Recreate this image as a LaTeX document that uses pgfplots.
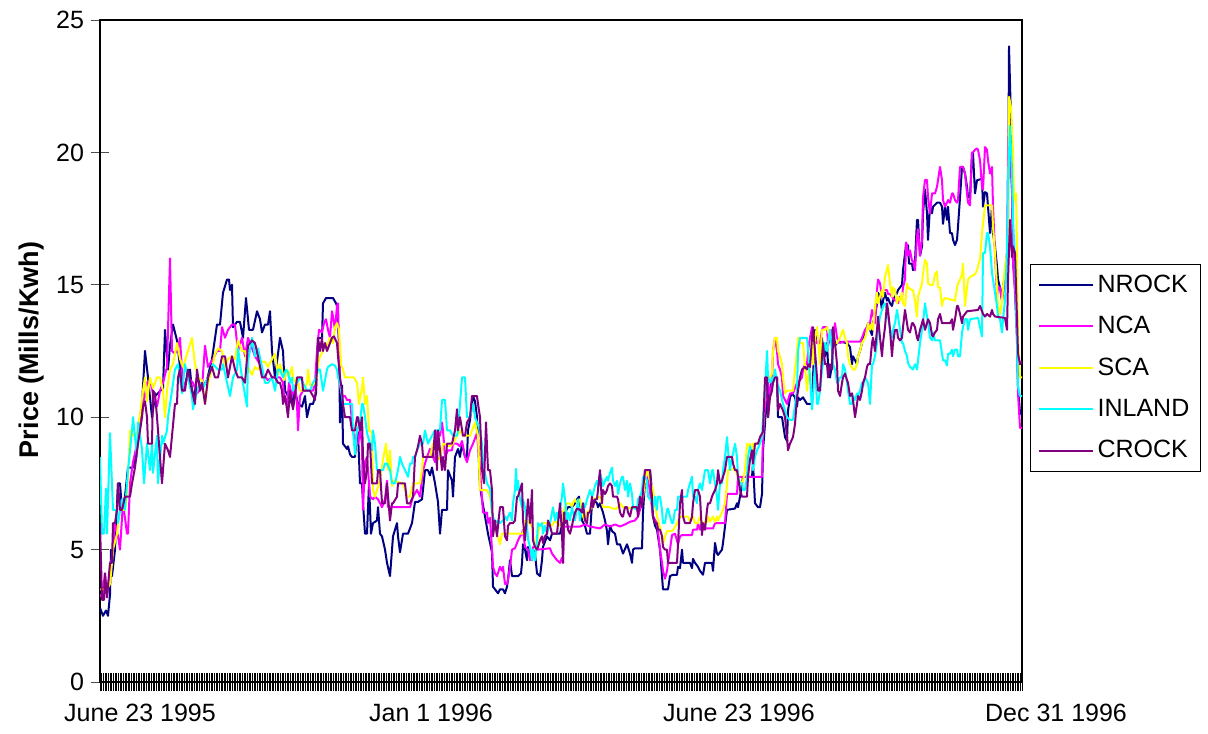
\documentclass[border=0pt]{standalone}
\usepackage{fontspec}
\setmainfont{Liberation Sans}
\usepackage{pgfplots}
\pgfplotsset{compat=1.18}

\definecolor{cNROCK}{RGB}{0,0,128}
\definecolor{cNCA}{RGB}{255,0,255}
\definecolor{cSCA}{RGB}{255,255,0}
\definecolor{cINLAND}{RGB}{0,255,255}
\definecolor{cCROCK}{RGB}{128,0,128}

\newcommand\chartfont{\fontsize{12.5}{15}\selectfont}

\begin{document}
\begin{tikzpicture}
\path[use as bounding box] (0,0) rectangle (604pt,366.5pt);
\begin{axis}[
  at={(50pt,25.5pt)}, anchor=south west,
  scale only axis, width=461pt, height=331pt,
  xmin=100, xmax=1022, ymin=0, ymax=25,
  axis line style={line width=0.6pt},
  tick pos=left, tick align=center, major tick length=9pt,
  xtick={100,101.655,...,1022}, xticklabels={},
  xtick style={line width=0.3pt, black},
  ytick={0,5,...,25},
  ytick style={line width=0.4pt, black!70},
  /pgf/number format/assume math mode=true,
  ticklabel style={font=\chartfont},
  every axis plot/.append style={line width=1pt, line join=round, mark=none},
  legend style={at={(rel axis cs:1.0087,0.632)}, anchor=north west,
    draw=black, line width=0.6pt, font=\chartfont, row sep=6.5pt,
    inner xsep=3.5pt, inner ysep=3.25pt},
  legend cell align=left,
  legend image code/.code={\draw[#1, line width=1pt] (0pt,0pt) -- (27pt,0pt);},
]
% NROCK
\addplot[color=cNROCK] coordinates {
(100,2.8) (103,2.5) (106,2.7) (108,2.5) (110,3.3) (111,5.0) (112,4.0) (115,5.0) (118,7.5) (120,7.5)
(122,6.5) (125,7.0) (128,8.1) (133,8.1) (137,8.8) (142,10.5) (145,12.5) (148,11.5) (152,10.0) (155,10.8)
(158,10.9) (163,11.1) (165,13.3) (168,11.8) (170,12.7) (173,13.5) (177,12.9) (180,11.9) (183,11.0) (187,11.5)
(190,11.8) (193,10.6) (197,11.5) (202,11.1) (207,11.4) (212,12.2) (217,13.5) (220,13.5) (223,14.7) (227,15.2)
(229,15.2) (230,14.8) (232,15.0) (233,13.4) (237,13.6) (240,13.6) (243,13.0) (246,14.5) (249,13.3) (253,13.3)
(257,14.0) (260,13.7) (262,13.2) (265,13.5) (268,13.5) (270,14.0) (272,12.5) (275,11.5) (280,13.0) (283,12.5)
(285,11.0) (288,10.8) (292,10.5) (295,11.0) (298,10.5) (302,10.4) (305,10.8) (307,10.0) (310,10.5) (313,10.5)
(316,10.9) (318,13.0) (322,13.0) (323,14.3) (326,14.5) (333,14.5) (336,14.3) (337,14.2) (339,12.8) (340,9.8)
(342,11.2) (343,9.0) (347,8.8) (348,8.9) (350,8.6) (352,8.5) (355,8.5) (357,9.5) (358,9.4) (360,7.5)
(362,7.5) (363,6.75) (365,5.6) (367,5.6) (369,7.5) (371,5.6) (373,6.0) (377,6.1) (378,6.6) (380,5.6)
(382,5.5) (385,5.0) (387,4.5) (390,4.0) (393,5.5) (397,6.0) (398,5.5) (400,4.9) (403,5.6) (408,5.6)
(412,6.0) (415,6.8) (418,6.8) (422,6.9) (425,8.0) (428,8.0) (430,7.8) (432,8.1) (435,7.5) (438,6.8)
(440,5.6) (442,6.5) (447,6.5) (448,8.0) (452,7.6) (453,7.0) (455,8.5) (458,8.8) (460,8.5) (462,9.0)
(465,8.5) (467,8.5) (468,9.5) (470,9.9) (473,10.8) (475,10.6) (477,10.0) (480,7.4) (482,6.9) (485,6.25)
(488,5.6) (492,4.9) (493,3.6) (495,3.5) (498,3.35) (500,3.5) (503,3.5) (505,3.35) (507,3.6) (508,3.85)
(510,4.6) (512,4.0) (518,4.0) (521,4.1) (522,4.5) (523,5.2) (525,5.0) (527,4.6) (528,5.1) (530,4.85)
(532,4.6) (533,5.0) (535,4.85) (537,4.1) (540,4.0) (542,4.6) (543,5.1) (547,5.5) (550,5.35) (552,5.6)
(560,5.6) (563,6.1) (565,6.4) (568,6.6) (572,6.6) (575,6.75) (577,6.9) (579,7.0) (582,6.1) (585,5.9)
(587,5.6) (590,5.6) (592,6.75) (593,6.9) (597,6.75) (598,6.6) (600,6.75) (603,6.4) (605,6.1) (607,5.7)
(608,5.2) (610,5.9) (612,5.7) (615,5.6) (617,5.2) (620,5.2) (623,4.85) (627,5.2) (630,4.85) (632,4.5)
(633,5.0) (635,5.05) (642,5.05) (643,6.4) (645,7.6) (647,8.0) (650,8.0) (652,7.2) (653,6.25) (655,5.9)
(657,5.75) (658,5.5) (660,5.0) (662,4.0) (663,3.5) (668,3.5) (670,4.0) (673,4.05) (677,4.05) (678,4.35)
(680,4.3) (682,5.0) (683,4.5) (690,4.5) (692,4.3) (693,4.65) (695,4.5) (698,4.35) (700,4.2) (703,4.05)
(705,4.5) (712,4.5) (713,4.2) (715,5.25) (717,4.85) (718,4.8) (722,5.0) (723,5.25) (727,6.5) (735,6.55)
(737,6.75) (738,6.6) (740,7.0) (743,7.75) (752,7.75) (753,8.25) (755,6.75) (758,6.6) (760,6.6) (762,7.1)
(763,8.75) (765,9.75) (767,11.3) (768,10.0) (770,11.0) (772,11.5) (777,11.5) (778,10.0) (782,10.0) (783,9.75)
(785,9.25) (787,9.1) (788,10.25) (790,10.75) (792,10.9) (795,10.75) (797,10.4) (798,10.75) (800,10.65) (803,10.75)
(807,10.5) (810,10.5) (812,10.5) (813,11.5) (815,13.3) (817,12.8) (820,12.8) (822,13.0) (823,12.5) (825,12.3)
(827,12.8) (828,12.0) (830,11.5) (832,12.0) (833,12.8) (835,12.7) (837,12.8) (840,12.85) (847,12.8) (850,12.65)
(852,12.0) (853,12.3) (857,12.0) (858,12.3) (860,12.5) (862,12.8) (863,13.0) (867,13.4) (868,13.55) (870,13.3)
(872,13.1) (873,13.55) (875,13.8) (877,14.3) (878,14.7) (880,14.55) (882,14.05) (883,14.4) (885,14.7) (887,14.4)
(888,14.5) (890,14.3) (892,14.2) (893,14.4) (895,14.55) (897,14.7) (898,14.8) (900,14.9) (902,15.0) (903,15.55)
(906,16.5) (908,16.5) (909,15.8) (912,15.8) (913,15.55) (915,15.9) (917,17.45) (918,17.45) (920,16.1) (922,16.45)
(923,17.7) (925,18.6) (927,17.7) (928,16.7) (930,17.95) (932,17.7) (933,17.95) (937,18.1) (940,18.1) (942,17.95)
(943,17.3) (945,17.95) (947,17.45) (948,17.95) (950,16.95) (952,16.95) (953,16.7) (955,16.5) (957,16.7) (958,17.2)
(960,18.3) (962,19.45) (963,19.45) (965,19.2) (967,18.7) (968,18.3) (970,18.3) (972,19.95) (973,19.95) (975,18.45)
(977,18.95) (982,19.0) (983,17.95) (985,18.5) (987,18.45) (988,17.95) (990,16.95) (992,17.95) (993,16.95) (995,16.45)
(997,15.7) (998,15.2) (1000,14.9) (1002,14.4) (1003,14.9) (1005,15.4) (1007,16.2) (1008,17.45) (1009,24.0) (1011,21.2)
(1012,18.95) (1013,15.9) (1015,14.9) (1017,13.15) (1018,11.15) (1020,10.15) (1022,10.1)
};
\addlegendentry{NROCK}
% NCA
\addplot[color=cNCA] coordinates {
(100,3.3) (102,3.2) (105,4.1) (107,3.2) (110,4.2) (113,5.0) (115,6.0) (118,5.5) (120,5.0) (122,6.2)
(123,6.7) (125,6.2) (127,5.6) (128,5.6) (130,7.5) (133,8.3) (137,9.0) (140,9.6) (143,10.4) (147,11.3)
(150,11.4) (153,10.9) (157,10.4) (160,11.0) (163,11.3) (167,11.9) (168,13.3) (170,16.0) (172,12.5) (175,12.4)
(178,12.6) (180,13.0) (183,11.1) (188,11.5) (193,11.3) (197,10.9) (202,11.1) (205,12.7) (208,11.9) (213,12.2)
(217,12.5) (220,12.5) (222,13.4) (225,13.0) (228,13.3) (232,13.5) (235,13.5) (238,12.5) (242,13.0) (245,12.3)
(248,13.0) (252,12.6) (255,12.3) (260,12.0) (263,11.6) (268,11.4) (273,11.5) (277,11.5) (280,11.5) (283,11.3)
(284,10.8) (287,10.5) (289,11.3) (292,10.8) (295,11.2) (297,10.5) (298,9.5) (300,10.8) (303,11.0) (313,11.0)
(315,11.3) (317,12.5) (319,13.3) (322,13.2) (324,13.55) (326,13.7) (328,13.3) (330,13.0) (332,14.0) (333,13.8)
(335,13.3) (337,14.2) (338,14.3) (340,11.2) (342,10.8) (345,10.8) (347,10.65) (350,10.65) (352,9.8) (355,9.0)
(358,9.0) (360,9.5) (362,9.0) (363,6.5) (365,8.3) (367,8.5) (368,8.0) (370,7.0) (373,6.9) (375,7.0)
(378,6.9) (382,6.6) (385,6.9) (387,7.6) (388,6.6) (410,6.6) (413,7.0) (417,7.25) (420,7.0) (423,8.0)
(427,8.5) (430,8.8) (433,8.5) (435,8.3) (437,9.5) (440,9.3) (442,9.8) (443,9.5) (445,8.5) (448,8.75)
(452,8.75) (453,9.0) (457,9.0) (460,8.9) (462,9.1) (465,8.5) (467,8.3) (470,8.75) (473,9.0) (477,9.4)
(480,8.0) (483,6.4) (487,6.4) (488,6.0) (490,6.2) (492,5.0) (493,4.35) (495,4.1) (497,4.0) (500,4.35)
(502,4.2) (503,4.35) (505,3.7) (507,3.7) (508,3.85) (510,4.35) (512,5.0) (515,5.05) (517,5.25) (518,5.35)
(520,5.5) (522,5.6) (523,5.75) (525,5.1) (528,5.0) (530,4.6) (532,4.85) (533,5.1) (537,5.1) (538,5.0)
(550,5.05) (552,4.85) (553,4.8) (557,4.6) (560,4.5) (562,4.7) (563,4.5) (564,5.87) (580,5.87) (585,5.95)
(590,5.87) (600,5.8) (605,5.95) (610,5.87) (615,5.95) (620,5.87) (625,5.95) (630,6.05) (635,6.1) (638,6.25)
(642,6.75) (643,6.9) (645,8.0) (648,7.6) (650,7.2) (653,6.25) (657,6.0) (660,5.0) (662,4.5) (663,4.2)
(665,3.9) (667,4.2) (668,4.5) (670,5.0) (672,5.55) (675,5.6) (678,5.2) (680,5.5) (682,5.55) (692,5.55)
(693,5.75) (697,5.75) (698,6.0) (700,5.75) (702,6.0) (703,5.75) (705,5.8) (713,5.8) (715,6.0) (725,6.0)
(727,7.1) (737,7.1) (738,7.75) (762,7.75) (763,9.25) (765,10.4) (767,11.0) (768,11.3) (770,10.8) (772,11.3)
(773,12.5) (775,13.0) (777,12.5) (778,12.0) (780,11.8) (782,11.5) (783,10.8) (787,10.5) (790,10.9) (793,10.9)
(797,11.3) (800,11.4) (802,11.5) (803,11.8) (805,12.0) (807,12.0) (808,12.5) (810,13.0) (812,13.4) (813,12.8)
(815,13.0) (817,12.8) (820,12.8) (822,13.3) (823,13.4) (827,13.4) (828,12.7) (830,13.0) (832,13.3) (833,13.0)
(835,13.55) (837,13.0) (840,12.8) (843,12.85) (860,12.85) (862,13.0) (863,13.1) (865,13.3) (867,13.4) (870,13.55)
(872,14.05) (873,13.9) (875,13.55) (877,14.8) (878,15.2) (880,15.05) (882,14.55) (883,14.8) (887,14.8) (888,14.65)
(890,14.65) (892,14.55) (895,14.4) (897,14.4) (898,14.3) (900,14.55) (902,14.55) (903,14.9) (905,15.2) (906,16.6)
(907,16.5) (908,16.1) (910,16.3) (912,15.9) (913,15.9) (915,15.55) (917,16.8) (918,17.1) (920,16.1) (922,16.7)
(923,18.3) (925,18.96) (927,18.96) (928,18.3) (930,17.7) (932,18.45) (935,18.45) (937,18.7) (938,18.95) (940,19.45)
(942,18.95) (943,18.2) (945,17.95) (947,18.1) (948,18.2) (950,18.1) (952,18.45) (953,18.45) (955,18.2) (957,18.1)
(958,18.2) (960,19.45) (963,19.45) (965,19.2) (967,18.45) (968,18.1) (970,18.0) (972,20.0) (973,20.0) (975,20.1)
(977,20.15) (978,20.1) (980,19.7) (982,18.7) (983,18.6) (985,20.2) (987,20.1) (988,19.7) (990,19.2) (992,19.45)
(993,17.95) (995,16.2) (997,14.55) (998,14.9) (1000,14.9) (1002,14.4) (1003,14.7) (1005,14.9) (1007,16.2) (1008,19.95)
(1009,21.2) (1011,19.2) (1012,18.45) (1013,15.9) (1015,14.7) (1017,12.9) (1018,10.9) (1020,9.6) (1022,9.6)
};
\addlegendentry{NCA}
% SCA
\addplot[color=cSCA] coordinates {
(100,3.5) (103,3.5) (107,3.5) (110,3.7) (112,4.5) (113,5.0) (117,5.6) (120,6.5) (125,6.5) (127,7.0)
(128,7.7) (130,9.5) (133,9.3) (137,9.4) (140,10.1) (143,11.0) (145,11.5) (147,10.6) (150,11.5) (153,11.1)
(157,11.5) (160,11.5) (163,11.0) (165,10.0) (167,11.0) (170,11.8) (173,12.0) (177,12.8) (180,12.2) (183,11.9)
(188,12.5) (192,13.0) (195,12.0) (198,11.5) (202,11.4) (205,10.5) (208,11.3) (212,11.8) (215,12.4) (218,12.6)
(222,12.5) (225,11.9) (228,12.2) (232,12.3) (235,12.2) (238,12.9) (242,12.5) (245,12.5) (248,11.9) (252,11.6)
(255,11.9) (258,11.8) (262,12.1) (265,12.1) (268,11.9) (275,12.4) (278,11.6) (280,12.0) (282,11.8) (284,11.4)
(287,11.8) (289,11.5) (292,11.9) (293,11.5) (297,11.2) (298,11.3) (300,11.0) (303,11.0) (307,11.3) (308,11.8)
(310,11.2) (313,11.2) (317,11.5) (318,12.0) (320,12.3) (323,12.5) (325,12.8) (327,12.7) (330,13.0) (333,12.8)
(335,13.4) (337,13.55) (339,13.3) (341,12.0) (343,11.8) (345,11.5) (354,11.5) (357,11.3) (359,10.5) (362,11.1)
(363,11.5) (365,10.5) (367,10.8) (369,9.5) (372,9.4) (373,7.25) (375,7.0) (377,7.25) (380,7.6) (383,8.4)
(386,9.0) (388,8.0) (390,8.75) (392,7.4) (393,7.6) (403,7.5) (407,7.0) (410,7.0) (413,7.5) (420,7.5)
(422,8.0) (423,8.5) (430,8.5) (433,9.0) (437,8.5) (440,8.4) (443,9.0) (450,8.9) (453,9.0) (457,9.3)
(460,9.5) (463,9.3) (470,9.3) (472,9.5) (475,9.8) (478,9.3) (480,7.25) (487,7.25) (490,7.0) (493,6.1)
(497,5.6) (500,5.2) (502,5.6) (523,5.6) (525,6.1) (527,5.9) (528,6.1) (530,6.0) (532,5.9) (533,5.6)
(535,5.1) (537,5.0) (538,5.6) (540,5.9) (542,6.0) (550,6.0) (552,5.9) (555,6.1) (557,6.0) (560,5.9)
(562,6.1) (563,6.4) (565,6.6) (567,6.75) (570,6.75) (572,6.6) (573,6.75) (575,6.9) (577,6.75) (580,6.9)
(582,6.4) (583,6.25) (585,6.1) (587,6.4) (590,6.5) (592,6.6) (593,6.9) (597,6.95) (600,7.0) (603,6.6)
(610,6.6) (613,6.55) (617,6.55) (620,6.75) (623,6.6) (637,6.55) (640,6.75) (643,7.0) (645,7.6) (647,8.0)
(650,7.6) (653,7.25) (655,6.75) (657,6.25) (660,5.85) (662,5.5) (663,5.2) (665,5.5) (667,5.7) (672,5.7)
(675,5.85) (677,6.0) (680,6.25) (688,6.25) (690,6.05) (693,6.25) (695,6.0) (698,6.0) (700,6.25) (702,6.0)
(707,6.05) (708,6.25) (710,6.05) (713,6.25) (715,6.05) (717,6.25) (718,6.1) (720,6.25) (723,6.5) (725,6.75)
(727,7.5) (728,8.0) (735,8.05) (738,7.75) (740,7.5) (743,7.6) (745,8.0) (747,9.0) (748,8.9) (750,9.0)
(752,8.5) (753,9.0) (760,9.0) (762,9.25) (763,9.5) (765,11.3) (767,11.5) (770,11.5) (772,11.65) (773,12.5)
(775,13.0) (777,13.0) (778,12.5) (780,12.3) (782,12.0) (783,11.5) (785,10.9) (787,11.0) (793,11.0) (795,11.8)
(797,12.5) (798,13.0) (800,12.8) (803,12.8) (807,11.0) (808,11.5) (810,12.0) (812,13.0) (813,12.0) (815,13.0)
(817,13.4) (818,13.0) (820,12.0) (822,13.3) (825,13.3) (827,13.4) (830,13.0) (832,12.8) (833,13.0) (835,12.8)
(837,12.8) (840,13.0) (842,13.2) (843,13.3) (845,13.0) (847,12.8) (848,12.3) (850,12.0) (853,11.8) (855,11.8)
(857,12.0) (858,12.3) (860,12.5) (862,12.8) (865,13.0) (867,13.3) (868,13.55) (870,13.3) (872,13.55) (873,13.3)
(875,14.2) (877,14.7) (878,14.3) (880,14.55) (882,14.8) (883,14.55) (885,15.3) (888,15.75) (890,15.05) (892,14.55)
(893,14.9) (895,14.8) (897,14.3) (898,14.55) (900,14.4) (902,14.7) (903,14.3) (905,14.2) (907,15.05) (908,14.9)
(912,14.8) (913,14.8) (915,14.4) (917,13.8) (918,14.55) (920,14.8) (922,15.05) (923,15.4) (925,15.94) (927,15.8)
(928,15.05) (930,15.0) (933,15.0) (935,15.4) (937,15.5) (938,14.9) (940,14.9) (942,14.2) (943,14.4) (945,14.5)
(955,14.4) (957,14.9) (958,15.05) (960,15.2) (962,15.4) (963,15.8) (965,14.2) (967,14.9) (968,15.2) (970,15.3)
(975,15.4) (977,15.55) (978,15.7) (980,15.95) (982,16.95) (985,18.0) (992,18.0) (993,17.2) (995,16.2) (997,14.9)
(998,14.2) (1000,13.9) (1002,14.4) (1003,14.9) (1005,15.7) (1007,16.2) (1008,17.0) (1009,22.1) (1011,21.7) (1013,20.0)
(1014,18.2) (1016,18.45) (1017,16.45) (1018,12.9) (1020,11.5) (1022,11.5)
};
\addlegendentry{SCA}
% INLAND
\addplot[color=cINLAND] coordinates {
(100,8.5) (102,5.6) (104,5.6) (106,7.3) (107,5.6) (110,9.4) (113,6.5) (117,6.5) (118,6.0) (122,6.9)
(125,6.5) (128,8.0) (132,9.5) (133,10.0) (137,8.5) (138,9.8) (142,8.8) (144,7.5) (147,9.0) (150,8.0)
(152,9.0) (153,7.9) (157,9.3) (158,7.5) (162,9.3) (163,9.0) (167,9.5) (168,10.0) (172,11.0) (175,11.8)
(178,12.0) (182,10.9) (185,12.0) (188,11.5) (192,10.8) (193,10.3) (197,11.0) (200,11.3) (203,11.1) (208,11.5)
(213,12.0) (218,11.8) (222,11.8) (223,12.0) (230,10.8) (233,11.5) (237,11.8) (238,12.6) (242,11.5) (247,10.4)
(248,12.1) (252,13.0) (255,12.3) (258,12.6) (262,11.9) (265,11.3) (268,11.3) (272,11.5) (275,11.0) (278,11.8)
(280,11.8) (283,11.5) (286,11.8) (288,11.7) (290,11.3) (292,11.5) (293,11.0) (297,11.3) (300,11.5) (303,11.3)
(307,11.0) (310,11.0) (313,11.3) (316,11.5) (318,11.8) (320,11.8) (323,11.0) (325,11.4) (327,11.8) (328,11.9)
(332,12.0) (335,11.95) (337,11.8) (338,11.5) (340,11.3) (342,10.8) (343,10.5) (352,10.5) (353,9.5) (355,8.6)
(357,9.5) (360,9.8) (362,10.5) (363,10.5) (365,10.0) (367,9.4) (370,9.0) (372,8.75) (373,9.5) (375,9.0)
(377,8.0) (383,8.0) (385,8.25) (387,8.25) (390,8.0) (392,7.5) (395,7.5) (398,8.0) (400,8.5) (402,8.25)
(405,8.0) (408,7.75) (410,8.25) (412,8.25) (413,8.5) (415,8.5) (417,8.75) (420,9.0) (423,9.0) (425,9.5)
(428,9.0) (432,9.3) (435,9.5) (440,9.5) (442,10.65) (445,10.65) (447,9.5) (450,9.5) (453,9.3) (457,9.3)
(458,9.5) (460,10.5) (462,11.5) (465,11.5) (467,10.0) (470,10.0) (473,10.5) (475,10.0) (477,9.8) (480,9.5)
(482,9.0) (483,8.25) (487,7.5) (490,7.3) (492,6.4) (493,6.25) (495,6.0) (498,6.1) (500,6.0) (503,6.1)
(505,6.25) (507,6.1) (508,6.25) (510,6.4) (512,6.1) (513,6.75) (515,7.25) (516,8.05) (517,7.25) (518,7.6)
(520,6.9) (522,6.6) (523,6.9) (525,6.6) (527,5.9) (528,5.4) (530,5.1) (532,4.6) (533,5.0) (535,4.6)
(537,5.4) (538,6.0) (540,5.9) (542,6.0) (543,5.6) (545,5.9) (547,5.6) (548,5.75) (550,6.0) (552,6.4)
(553,6.6) (555,6.1) (557,6.4) (558,6.1) (560,6.5) (562,7.0) (563,7.5) (565,6.9) (567,6.1) (568,6.4)
(570,6.1) (572,6.6) (573,6.4) (575,6.1) (577,6.6) (578,6.9) (580,6.1) (582,6.6) (583,6.75) (585,6.6)
(587,6.9) (588,7.0) (590,7.25) (592,7.0) (593,7.1) (595,7.4) (597,7.6) (598,7.4) (600,7.9) (602,7.6)
(603,7.4) (605,7.6) (607,7.75) (608,7.6) (610,7.9) (612,8.1) (613,7.6) (615,7.4) (617,7.6) (618,7.1)
(620,7.5) (622,7.75) (623,7.75) (625,7.25) (627,7.6) (628,7.0) (630,7.5) (632,7.1) (633,6.6) (635,6.55)
(637,6.5) (638,6.9) (640,7.0) (642,7.25) (643,7.75) (645,7.75) (647,7.6) (648,7.0) (650,6.9) (652,6.75)
(653,6.5) (655,7.0) (657,6.5) (658,7.0) (660,7.0) (662,6.5) (663,6.0) (665,6.0) (667,6.5) (668,6.55)
(670,6.25) (672,6.0) (673,6.0) (675,6.5) (677,6.5) (678,7.0) (687,7.0) (688,7.25) (690,7.5) (692,7.75)
(693,7.0) (695,7.0) (697,6.75) (698,7.25) (700,7.5) (702,7.25) (703,7.5) (705,8.0) (708,8.0) (710,7.5)
(712,8.0) (713,8.0) (715,7.5) (717,7.0) (718,6.5) (720,7.5) (722,7.5) (723,8.0) (725,8.5) (727,9.25)
(728,8.75) (730,8.0) (732,8.5) (733,8.6) (735,9.0) (737,8.5) (738,7.75) (740,7.5) (742,7.5) (743,7.25)
(745,7.25) (747,7.75) (748,8.5) (750,8.9) (752,8.6) (753,8.0) (755,8.5) (757,8.75) (760,9.0) (762,9.25)
(763,10.0) (765,11.0) (767,12.5) (768,11.5) (770,11.3) (772,11.5) (773,11.3) (775,11.8) (777,11.3) (780,11.0)
(783,10.5) (787,10.0) (790,9.9) (793,9.9) (797,11.0) (798,12.5) (800,13.0) (807,13.0) (808,12.6) (810,11.5)
(812,10.3) (813,10.8) (815,12.0) (817,10.5) (818,10.5) (820,11.0) (822,11.8) (823,12.0) (825,12.8) (827,12.5)
(828,12.8) (830,13.3) (832,12.5) (833,12.0) (835,11.8) (837,11.3) (838,11.3) (840,11.5) (842,11.5) (843,12.0)
(845,11.8) (847,11.3) (848,11.0) (850,10.5) (852,10.5) (853,10.8) (855,10.65) (857,10.9) (858,10.8) (860,11.0)
(862,11.3) (863,11.15) (865,11.5) (868,11.3) (870,10.5) (872,12.0) (873,12.0) (875,12.3) (877,12.8) (878,13.3)
(880,13.8) (882,14.05) (883,14.2) (885,14.3) (887,14.05) (888,13.8) (890,13.3) (892,13.0) (893,13.3) (895,13.55)
(897,14.05) (898,13.8) (900,13.3) (902,12.8) (903,12.8) (905,12.5) (907,12.3) (908,12.05) (910,11.9) (913,11.8)
(915,12.0) (917,11.8) (920,12.8) (922,13.3) (923,13.55) (925,14.3) (927,13.8) (928,13.55) (930,13.0) (932,12.9)
(933,13.2) (935,12.9) (940,12.9) (942,12.4) (943,12.15) (945,12.15) (947,11.95) (948,12.4) (950,12.4) (952,12.55)
(953,12.3) (955,12.55) (957,12.55) (958,12.3) (960,12.3) (962,13.2) (963,13.4) (965,13.7) (967,13.7) (968,13.3)
(970,13.7) (978,13.75) (980,13.4) (982,13.05) (983,16.2) (985,16.2) (987,16.95) (988,16.95) (990,16.45) (992,15.45)
(993,15.2) (995,14.7) (997,14.2) (998,13.8) (1000,13.7) (1002,13.2) (1003,13.7) (1005,14.4) (1007,16.2) (1008,18.95)
(1010,21.0) (1012,19.2) (1013,17.45) (1015,15.95) (1017,12.7) (1018,11.15) (1020,10.8) (1022,10.8)
};
\addlegendentry{INLAND}
% CROCK
\addplot[color=cCROCK] coordinates {
(100,6.0) (102,3.1) (104,3.1) (105,4.1) (107,3.2) (110,4.5) (112,4.5) (113,6.0) (115,6.0) (117,6.5)
(118,7.5) (120,6.5) (122,6.5) (125,7.0) (130,7.0) (132,7.5) (135,8.1) (138,9.0) (142,10.0) (143,10.4)
(145,10.6) (147,10.0) (148,9.0) (152,9.0) (153,11.0) (155,10.9) (157,10.0) (160,8.5) (162,7.5) (163,8.0)
(165,9.0) (168,8.75) (170,8.5) (172,9.3) (175,10.5) (177,10.5) (178,11.5) (180,11.8) (182,11.0) (185,11.0)
(187,11.6) (188,11.8) (192,11.0) (195,10.5) (197,11.8) (200,11.0) (202,11.3) (205,10.5) (208,11.5) (212,11.9)
(215,11.5) (218,11.5) (222,12.3) (225,12.3) (228,11.5) (232,12.3) (235,11.8) (238,11.5) (242,11.5) (245,11.3)
(248,12.7) (252,12.9) (255,12.8) (258,12.3) (262,11.5) (265,11.5) (268,11.8) (272,11.5) (275,11.5) (278,11.3)
(280,11.3) (282,11.0) (283,10.5) (285,10.8) (287,10.3) (288,10.0) (290,11.0) (292,10.5) (293,10.3) (295,10.8)
(297,11.5) (302,11.5) (303,11.0) (310,11.0) (313,10.8) (315,10.65) (317,11.8) (318,13.0) (320,12.5) (322,13.0)
(323,12.5) (325,12.8) (327,12.5) (332,13.0) (334,13.05) (337,12.8) (338,12.3) (340,11.5) (342,11.0) (343,10.5)
(345,10.0) (350,10.0) (352,9.5) (355,9.5) (357,10.0) (358,10.0) (360,9.5) (362,10.0) (363,8.5) (365,7.5)
(367,8.0) (368,9.0) (370,9.0) (372,7.5) (377,7.5) (378,8.0) (380,8.0) (382,6.75) (385,6.75) (387,7.5)
(390,6.1) (392,6.75) (393,6.75) (397,7.0) (398,7.5) (405,7.5) (407,6.75) (410,6.75) (413,7.0) (415,8.5)
(417,8.75) (418,8.9) (420,9.3) (422,9.0) (423,8.5) (433,8.5) (435,9.5) (437,8.0) (438,9.5) (442,8.0)
(443,8.5) (445,8.0) (447,9.0) (452,9.0) (455,9.5) (457,10.3) (458,9.5) (460,10.0) (463,9.3) (465,9.3)
(467,9.8) (470,10.0) (472,10.8) (477,10.8) (478,10.5) (480,10.0) (482,8.0) (484,7.5) (486,9.8) (488,8.0)
(490,8.0) (492,7.25) (493,5.5) (495,6.1) (497,5.5) (498,5.9) (500,6.6) (503,6.6) (505,5.5) (507,5.35)
(508,5.9) (510,6.0) (513,6.0) (515,6.1) (517,7.0) (518,7.0) (520,7.25) (522,7.5) (523,6.1) (525,5.35)
(527,6.4) (528,6.9) (530,6.0) (532,7.25) (533,5.35) (535,5.1) (537,5.0) (538,5.1) (540,5.35) (542,5.5)
(543,5.25) (545,5.5) (547,5.6) (548,6.1) (550,5.9) (552,5.6) (557,5.6) (560,6.75) (562,5.6) (563,4.5)
(564,6.4) (565,6.0) (567,6.1) (568,5.75) (570,5.6) (572,5.9) (573,6.1) (575,6.4) (577,6.55) (580,6.5)
(582,6.4) (583,6.75) (585,6.1) (587,6.0) (588,6.4) (590,6.4) (592,7.0) (593,6.6) (595,6.9) (597,6.9)
(600,8.0) (602,6.75) (603,7.25) (605,7.1) (607,7.25) (608,7.4) (610,7.5) (612,7.4) (613,7.0) (617,7.0)
(618,6.9) (620,6.4) (622,6.25) (623,6.25) (625,6.6) (627,6.6) (628,6.4) (630,6.25) (632,6.6) (637,6.6)
(638,6.25) (640,7.0) (642,6.6) (643,7.25) (645,8.0) (650,8.0) (652,6.75) (653,6.25) (655,6.0) (657,6.0)
(658,5.75) (660,5.75) (662,5.5) (663,5.1) (665,5.0) (667,5.0) (668,4.5) (677,4.5) (678,5.2) (680,6.75)
(682,7.25) (683,6.25) (685,6.0) (690,6.0) (692,6.25) (693,6.75) (695,7.25) (698,7.25) (700,7.0) (702,5.55)
(703,6.0) (705,5.75) (707,6.5) (708,6.75) (710,6.75) (712,7.0) (713,7.1) (715,7.25) (717,7.5) (718,8.0)
(720,7.5) (722,7.6) (723,7.75) (725,8.0) (727,8.5) (732,8.5) (733,8.25) (735,8.0) (737,8.0) (740,7.25)
(742,7.0) (747,7.0) (748,7.75) (750,8.4) (752,8.75) (753,8.25) (755,9.0) (758,9.0) (760,9.25) (763,9.45)
(765,11.5) (767,11.5) (768,10.0) (770,10.75) (772,11.0) (773,11.3) (775,11.5) (777,11.5) (778,10.25) (780,10.5)
(783,10.25) (785,10.0) (787,9.25) (788,8.75) (790,9.0) (793,9.25) (795,9.75) (797,10.75) (798,11.0) (800,11.5)
(802,11.8) (805,11.9) (807,11.8) (808,12.0) (810,11.9) (812,13.0) (813,13.4) (815,12.5) (817,11.5) (818,11.0)
(820,11.0) (822,12.3) (823,12.8) (825,12.0) (827,12.0) (828,11.5) (830,12.0) (832,11.8) (833,13.4) (835,12.8)
(837,12.0) (838,11.0) (840,10.8) (842,11.3) (843,11.5) (845,11.65) (847,11.4) (848,11.3) (850,10.8) (852,10.9)
(853,10.65) (855,10.0) (857,10.5) (858,10.8) (860,10.65) (862,11.0) (863,11.3) (865,11.5) (867,11.9) (868,12.0)
(870,12.0) (872,12.8) (873,13.0) (875,12.5) (877,13.3) (878,13.8) (880,13.0) (882,12.3) (883,12.8) (885,13.4)
(887,14.3) (888,14.05) (890,13.3) (892,12.3) (893,12.8) (895,13.3) (897,13.3) (898,13.0) (900,12.9) (902,13.0)
(903,13.4) (905,14.05) (907,13.55) (908,13.3) (910,13.2) (912,13.55) (913,13.55) (915,13.4) (917,13.0) (918,12.9)
(920,13.3) (922,13.55) (923,13.7) (925,13.3) (927,13.55) (928,13.7) (930,13.55) (932,13.1) (933,13.05) (935,13.2)
(937,13.3) (938,13.7) (940,13.9) (942,13.55) (950,13.55) (952,13.7) (953,13.3) (955,13.7) (957,14.2) (958,14.2)
(960,13.9) (962,13.55) (963,13.8) (965,13.9) (967,14.0) (978,14.05) (980,14.2) (983,13.9) (985,13.8) (987,13.9)
(990,13.8) (992,14.05) (993,13.9) (995,13.8) (1005,13.75) (1007,13.3) (1008,15.2) (1010,17.45) (1012,16.05) (1013,16.45)
(1015,16.2) (1017,13.7) (1018,12.4) (1020,12.0) (1022,12.1)
};
\addlegendentry{CROCK}
\end{axis}
\node[font=\chartfont] at (70pt,10pt) {June 23 1995};
\node[font=\chartfont] at (215.5pt,10pt) {Jan 1 1996};
\node[font=\chartfont] at (369.5pt,10pt) {June 23 1996};
\node[font=\chartfont] at (528pt,10pt) {Dec 31 1996};
\node[rotate=90, font=\bfseries\fontsize{13.5}{16}\selectfont] at (16pt,191.5pt) {Price (Mills/Kwh)};
\end{tikzpicture}
\end{document}
